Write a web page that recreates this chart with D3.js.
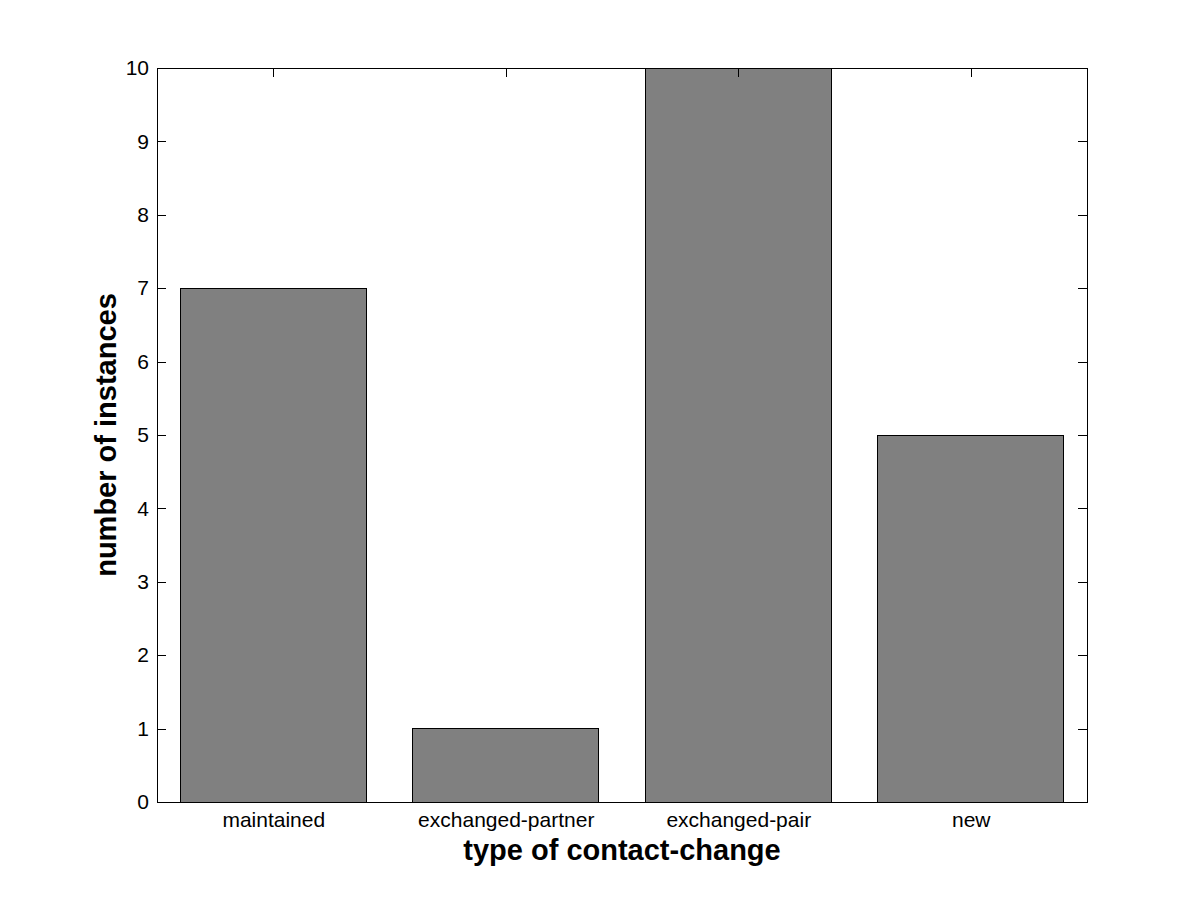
<!DOCTYPE html>
<html><head><meta charset="utf-8">
<script src="https://cdn.jsdelivr.net/npm/d3@7"></script>
<style>body{margin:0;background:#fff}</style>
</head><body>
<script>
const categories = ["maintained", "exchanged-partner", "exchanged-pair", "new"];
const values = [7, 1, 10, 5];
const yTicks = [0, 1, 2, 3, 4, 5, 6, 7, 8, 9, 10];

const W = 1201, H = 901;
const L = 157, R = 1087, T = 68, B = 802;
const FONT = "'Liberation Sans', Arial, Helvetica, sans-serif";
const svg = d3.select("body").append("svg").attr("width", W).attr("height", H)
  .style("font-family", FONT);

const x = d3.scaleLinear().domain([0.5, categories.length + 0.5]).range([L, R]);
const y = d3.scaleLinear().domain([0, 10]).range([B, T]);
const bw = 0.8;

// bars
svg.selectAll("rect.bar").data(values).join("rect")
  .attr("x", (d, i) => x(i + 1 - bw / 2))
  .attr("y", d => y(d))
  .attr("width", (d, i) => x(i + 1 + bw / 2) - x(i + 1 - bw / 2))
  .attr("height", d => y(0) - y(d))
  .attr("fill", "#808080").attr("stroke", "#000").attr("stroke-width", 1)
  .attr("shape-rendering", "crispEdges");

// frame
svg.append("rect").attr("x", L).attr("y", T).attr("width", R - L).attr("height", B - T)
  .attr("fill", "none").attr("stroke", "#000").attr("stroke-width", 1)
  .attr("shape-rendering", "crispEdges");

// y axis left & right ticks (inside)
const tl = 9;
const yl = d3.axisLeft(y).tickValues(yTicks).tickSizeInner(-tl).tickSizeOuter(0).tickPadding(8).tickFormat(d3.format("d"));
const gy = svg.append("g").attr("transform", `translate(${L},0)`).call(yl);
gy.select(".domain").remove();
gy.selectAll("text").attr("font-size", 21).attr("fill", "#000").attr("font-family", FONT);
gy.selectAll("line").attr("shape-rendering", "crispEdges");

const yr = d3.axisRight(y).tickValues(yTicks).tickSizeInner(-tl).tickSizeOuter(0).tickFormat("");
const gyr = svg.append("g").attr("transform", `translate(${R},0)`).call(yr);
gyr.select(".domain").remove();
gyr.selectAll("line").attr("shape-rendering", "crispEdges");

// x axis top ticks
const xt = d3.axisTop(x).tickValues(categories.map((c, i) => i + 1)).tickSizeInner(-tl).tickSizeOuter(0).tickFormat("");
const gxt = svg.append("g").attr("transform", `translate(0,${T})`).call(xt);
gxt.select(".domain").remove();
gxt.selectAll("line").attr("shape-rendering", "crispEdges");

// x labels
const xb = d3.axisBottom(x).tickValues(categories.map((c, i) => i + 1)).tickSize(0).tickPadding(10)
  .tickFormat((d) => categories[d - 1]);
const gxb = svg.append("g").attr("transform", `translate(0,${B})`).call(xb);
gxb.select(".domain").remove();
gxb.selectAll("text").attr("font-size", 21).attr("fill", "#000").attr("font-family", FONT);

// axis titles
svg.append("text").attr("x", (L + R) / 2).attr("y", 860).attr("text-anchor", "middle")
  .attr("font-size", 29).attr("font-weight", "bold").text("type of contact-change");
svg.append("text").attr("transform", `translate(116,${(T + B) / 2}) rotate(-90)`).attr("text-anchor", "middle")
  .attr("font-size", 29).attr("font-weight", "bold").text("number of instances");
</script>
</body></html>
